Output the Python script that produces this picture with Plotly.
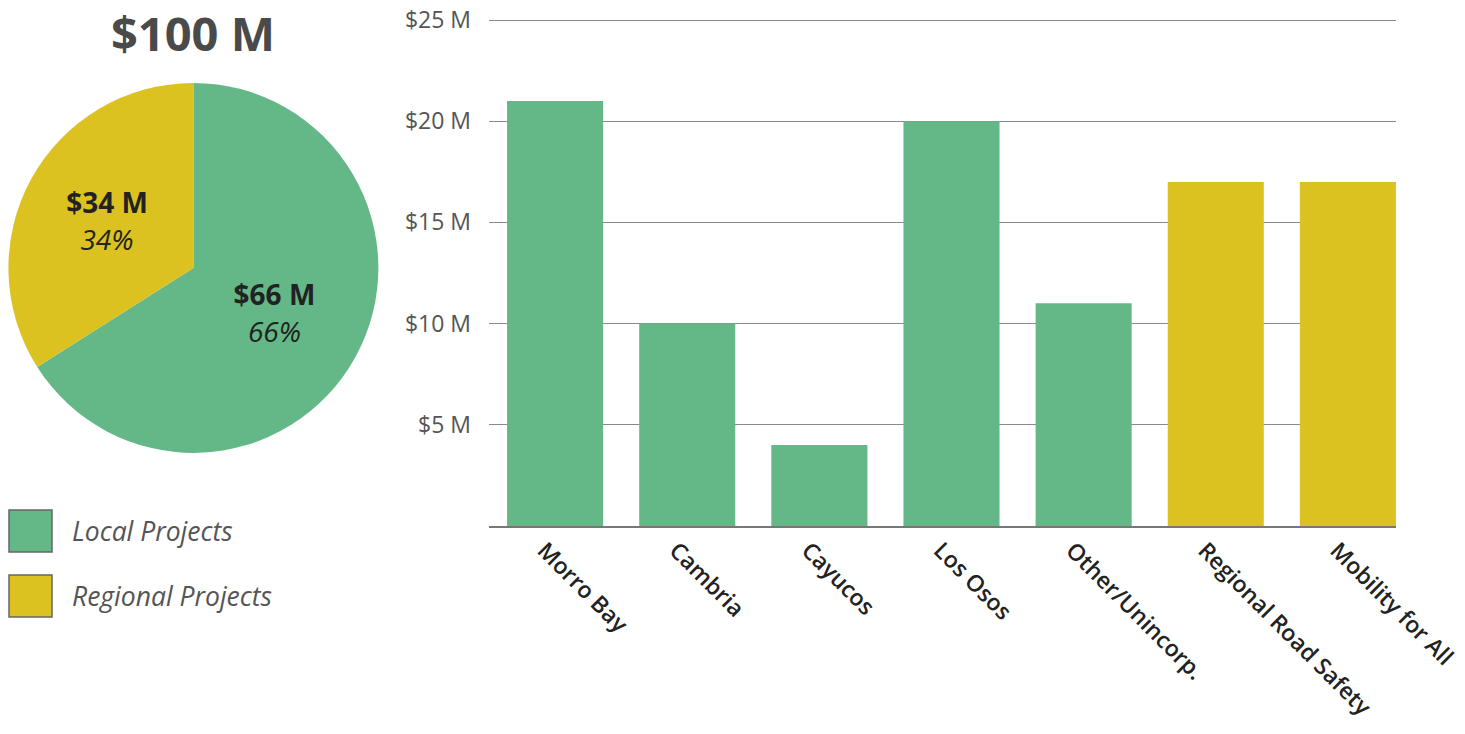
import plotly.graph_objects as go

# Data
pie_labels = ["Local Projects", "Regional Projects"]
pie_values = [66, 34]
total_label = "$100 M"

categories = ["Morro Bay", "Cambria", "Cayucos", "Los Osos", "Other/Unincorp.",
              "Regional Road Safety", "Mobility for All"]
values = [21, 10, 4, 20, 11, 17, 17]
groups = ["Local Projects", "Local Projects", "Local Projects", "Local Projects",
          "Local Projects", "Regional Projects", "Regional Projects"]
y_ticks = [5, 10, 15, 20, 25]
y_tick_labels = ["$5 M", "$10 M", "$15 M", "$20 M", "$25 M"]

GREEN = "#64b887"
YELLOW = "#dcc221"
color_map = {"Local Projects": GREEN, "Regional Projects": YELLOW}
FONT = "Open Sans"

fig = go.Figure()

fig.add_trace(go.Pie(
    labels=pie_labels, values=pie_values, sort=False, direction="clockwise",
    rotation=0, marker=dict(colors=[color_map[l] for l in pie_labels]),
    texttemplate="<b>$%{value} M</b><br><i>%{percent:.0%}</i>",
    textposition="inside", insidetextorientation="horizontal",
    textfont=dict(family=FONT, size=28, color="#222222"),
    domain=dict(x=[0.004, 0.26], y=[0.383, 0.887]),
    showlegend=False, hoverinfo="label+value+percent",
))

fig.add_trace(go.Bar(
    x=categories, y=values,
    marker=dict(color=[color_map[g] for g in groups], line=dict(width=0)),
    showlegend=False, width=0.727,
))

fig.update_layout(
    width=1465, height=734, autosize=False,
    margin=dict(l=0, r=0, t=0, b=0, pad=0),
    paper_bgcolor="white", plot_bgcolor="white",
    font=dict(family=FONT),
    uniformtext=dict(minsize=28, mode="show"),
    xaxis=dict(domain=[0.3338, 0.9529], range=[-0.5, 6.364], automargin=False,
               tickangle=45, ticks="", showline=True, linecolor="#777777", linewidth=1.5,
               tickfont=dict(family=FONT, size=23, color="#222222", weight=600),
               ticklabelshift=-11, showgrid=False),
    yaxis=dict(domain=[0.2834, 0.97548], range=[0, 25.1], automargin=False,
               tickvals=y_ticks, ticktext=y_tick_labels,
               tickfont=dict(family=FONT, size=23, color="#555555"),
               gridcolor="#8a8a8a", gridwidth=1, zeroline=False,
               ticks="", ticklabelstandoff=17),
    bargap=0.273,
)

# Total title
fig.add_annotation(text="<b>" + total_label + "</b>", x=193/1465, y=1.0,
                   xref="paper", yref="paper", showarrow=False,
                   font=dict(family=FONT, size=47, color="#4a4a4a"),
                   xanchor="center", yanchor="top", borderpad=0)

# Custom legend
for i, lab in enumerate(pie_labels):
    yc = 531 + i * 65
    fig.add_shape(type="rect", xref="paper", yref="paper",
                  x0=9/1465, x1=52/1465, y0=1 - (yc - 21)/734, y1=1 - (yc + 21)/734,
                  fillcolor=color_map[lab], line=dict(color="#666666", width=1.5))
    fig.add_annotation(text="<i>" + lab + "</i>", x=70/1465, y=1 - yc/734,
                       xref="paper", yref="paper", showarrow=False,
                       xanchor="left", yanchor="middle",
                       font=dict(family=FONT, size=26.5, color="#555555"))

fig.write_html("out.html", config={"displayModeBar": False},
               post_script="document.body.style.margin='0';document.body.style.overflow='hidden';")
